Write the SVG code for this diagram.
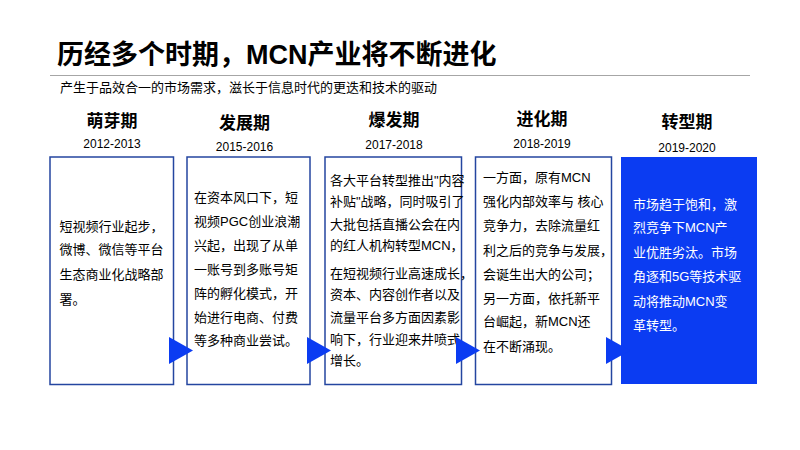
<svg xmlns="http://www.w3.org/2000/svg" width="800" height="450" viewBox="0 0 800 450">
<style>
.title{font-family:"Liberation Sans","Noto Sans CJK SC",sans-serif;font-size:27px;font-weight:bold;fill:#000}
.sub{font-family:"Liberation Sans","Noto Sans CJK SC",sans-serif;font-size:13px;fill:#000}
.hd{font-family:"Liberation Sans","Noto Sans CJK SC",sans-serif;font-size:17px;font-weight:bold;fill:#000;text-anchor:middle}
.yr{font-family:"Liberation Sans","Noto Sans CJK SC",sans-serif;font-size:12px;fill:#000;text-anchor:middle}
.tx{font-family:"Liberation Sans","Noto Sans CJK SC",sans-serif;font-size:13px;fill:#000}
.tw{font-family:"Liberation Sans","Noto Sans CJK SC",sans-serif;font-size:13px;fill:#fff}
.box{fill:#fff;stroke:#2446a0;stroke-width:1.5}
.boxf{fill:#0b3cf2}
.tri{fill:#0b3cf2}
</style>
<rect width="800" height="450" fill="#fff"/>
<text class="title" x="57" y="64">历经多个时期，MCN产业将不断进化</text>
<line x1="50" y1="75.5" x2="750" y2="75.5" stroke="#a6a6a6" stroke-width="1.2"/>
<text class="sub" x="60" y="92">产生于品效合一的市场需求，滋长于信息时代的更迭和技术的驱动</text>

<g id="stage1">
<text class="hd" x="112" y="127">萌芽期</text>
<text class="yr" x="112" y="148">2012-2013</text>
<rect class="box" x="50" y="157" width="123.5" height="227.5"/>
<text class="tx"><tspan x="59.5" y="231">短视频行业起步，</tspan><tspan x="59.5" y="254">微博、微信等平台</tspan><tspan x="59.5" y="278.5">生态商业化战略部</tspan><tspan x="59.5" y="303.5">署。</tspan></text>
</g>

<g id="stage2">
<text class="hd" x="244.5" y="129">发展期</text>
<text class="yr" x="244.5" y="151">2015-2016</text>
<rect class="box" x="187" y="157" width="123" height="227.5"/>
<text class="tx"><tspan x="194" y="202">在资本风口下，短</tspan><tspan x="194" y="226">视频PGC创业浪潮</tspan><tspan x="194" y="250">兴起，出现了从单</tspan><tspan x="194" y="273.5">一账号到多账号矩</tspan><tspan x="194" y="298">阵的孵化模式，开</tspan><tspan x="194" y="321.5">始进行电商、付费</tspan><tspan x="194" y="345">等多种商业尝试。</tspan></text>
</g>

<g id="stage3">
<text class="hd" x="394" y="126">爆发期</text>
<text class="yr" x="394" y="149">2017-2018</text>
<rect class="box" x="325" y="157" width="136.5" height="227.5"/>
<text class="tx"><tspan x="330" y="185">各大平台转型推出"内容</tspan><tspan x="330" y="205.5">补贴"战略，同时吸引了</tspan><tspan x="330" y="228.5">大批包括直播公会在内</tspan><tspan x="330" y="250">的红人机构转型MCN，</tspan><tspan x="330" y="278">在短视频行业高速成长，</tspan><tspan x="330" y="299">资本、内容创作者以及</tspan><tspan x="330" y="321.5">流量平台多方面因素影</tspan><tspan x="330" y="343.5">响下，行业迎来井喷式</tspan><tspan x="330" y="365">增长。</tspan></text>
</g>

<g id="stage4">
<text class="hd" x="542" y="125">进化期</text>
<text class="yr" x="542" y="148">2018-2019</text>
<rect class="box" x="475.5" y="157" width="136" height="227.5"/>
<text class="tx"><tspan x="483" y="182">一方面，原有MCN</tspan><tspan x="483" y="205.5">强化内部效率与 核心</tspan><tspan x="483" y="230">竞争力，去除流量红</tspan><tspan x="483" y="255">利之后的竞争与发展，</tspan><tspan x="483" y="278.5">会诞生出大的公司；</tspan><tspan x="483" y="303">另一方面，依托新平</tspan><tspan x="483" y="326">台崛起，新MCN还</tspan><tspan x="483" y="351">在不断涌现。</tspan></text>
</g>

<g id="stage5">
<text class="hd" x="687" y="128">转型期</text>
<text class="yr" x="687" y="152">2019-2020</text>
<rect class="boxf" x="621" y="157" width="136" height="227"/>
<text class="tw"><tspan x="633" y="208.5">市场趋于饱和，激</tspan><tspan x="633" y="232">烈竞争下MCN产</tspan><tspan x="633" y="256.5">业优胜劣汰。市场</tspan><tspan x="633" y="280.5">角逐和5G等技术驱</tspan><tspan x="633" y="305.5">动将推动MCN变</tspan><tspan x="633" y="329.5">革转型。</tspan></text>
</g>

<g id="connectors">
<polygon class="tri" points="169,337 193,350.5 169,364"/>
<polygon class="tri" points="307,337 331,350.5 307,364"/>
<polygon class="tri" points="456,337 480,350.5 456,364"/>
<polygon class="tri" points="606,337 630,350.5 606,364"/>
</g>
</svg>
